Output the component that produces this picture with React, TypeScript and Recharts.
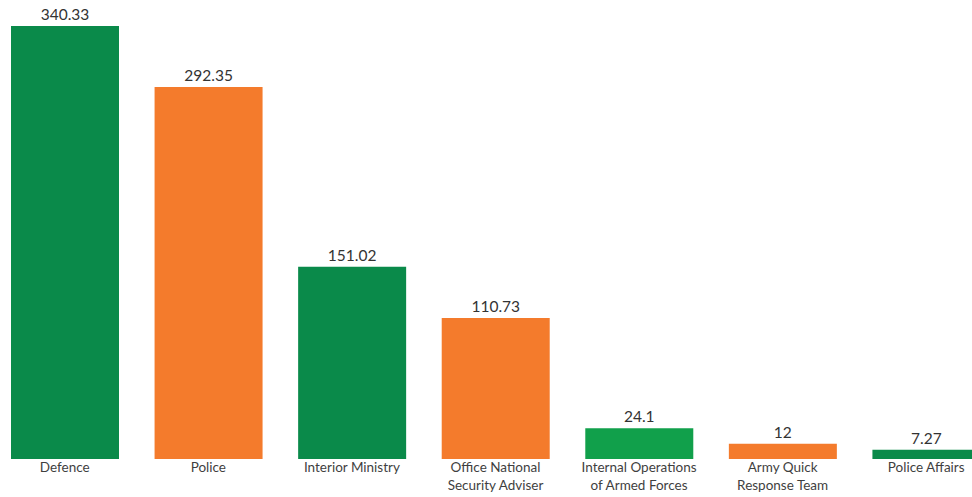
import React from 'react';
import { BarChart, Bar, XAxis, YAxis, Cell, LabelList } from 'recharts';

const categories = [
    'Defence',
    'Police',
    'Interior Ministry',
    'Office National\nSecurity Adviser',
    'Internal Operations\nof Armed Forces',
    'Army Quick\nResponse Team',
    'Police Affairs',
];
const amounts = [340.33, 292.35, 151.02, 110.73, 24.1, 12, 7.27];
const barColors = ['#0a8a4a', '#f47b2c', '#0a8a4a', '#f47b2c', '#11a04b', '#f47b2c', '#0a8a4a'];

const data = categories.map((name, i) => ({ name, value: amounts[i] }));

// two-line category labels, split on \n
const CategoryTick = (props: any) => {
    const { x, y, payload } = props;
    const lines = String(payload.value).split('\n');
    return (
        <text x={x} y={y} textAnchor="middle" fill="#3f3f3f" fontSize={13.5} fontFamily="Lato, sans-serif">
            {lines.map((line, i) => (
                <tspan key={i} x={x} dy={i === 0 ? 13 : 18}>
                    {line}
                </tspan>
            ))}
        </text>
    );
};

export default function App() {
    return (
        <div style={{ position: 'fixed', left: 0, top: 0, width: 972, height: 497, overflow: 'hidden', background: '#fff' }}>
            <div style={{ position: 'absolute', left: -7, top: 0 }}>
                <BarChart width={1005} height={497} data={data} margin={{ top: 26, right: 0, bottom: 0, left: 0 }}>
                    <XAxis
                        dataKey="name"
                        axisLine={false}
                        tickLine={false}
                        tickSize={0}
                        tickMargin={0}
                        height={38}
                        interval={0}
                        tick={<CategoryTick />}
                    />
                    <YAxis hide domain={[0, 340.33]} />
                    <Bar dataKey="value" barSize={108} isAnimationActive={false}>
                        {data.map((d, i) => (
                            <Cell key={d.name} fill={barColors[i]} />
                        ))}
                        <LabelList
                            dataKey="value"
                            position="top"
                            offset={6}
                            fill="#333333"
                            fontSize={15.5}
                            fontFamily="Lato, sans-serif"
                        />
                    </Bar>
                </BarChart>
            </div>
        </div>
    );
}
